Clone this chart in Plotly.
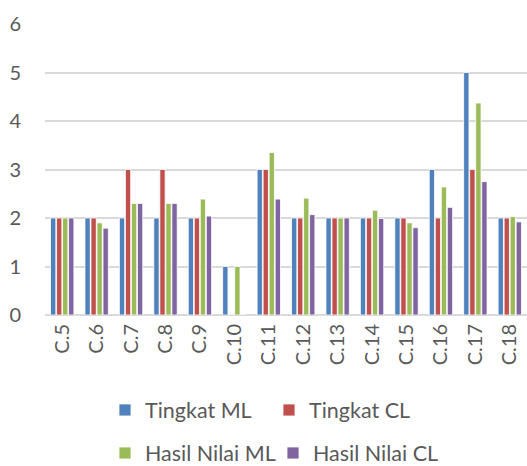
import plotly.graph_objects as go

categories = ["C.5", "C.6", "C.7", "C.8", "C.9", "C.10", "C.11", "C.12", "C.13", "C.14", "C.15", "C.16", "C.17", "C.18"]
tingkat_ml = [2, 2, 2, 2, 2, 1, 3, 2, 2, 2, 2, 3, 5, 2]
tingkat_cl = [2, 2, 3, 3, 2, 0, 3, 2, 2, 2, 2, 2, 3, 2]
hasil_ml = [2, 1.9, 2.3, 2.3, 2.39, 1, 3.35, 2.41, 2, 2.16, 1.9, 2.64, 4.37, 2.03]
hasil_cl = [2, 1.79, 2.3, 2.3, 2.04, 0, 2.39, 2.07, 2, 1.99, 1.8, 2.22, 2.75, 1.92]
y_ticks = [0, 1, 2, 3, 4, 5, 6]

series = [
    ("Tingkat ML", tingkat_ml, "#4F81BD", "legend", 105, 410),
    ("Tingkat CL", tingkat_cl, "#C0504D", "legend2", 269, 410),
    ("Hasil Nilai ML", hasil_ml, "#9BBB59", "legend3", 105, 453),
    ("Hasil Nilai CL", hasil_cl, "#8064A2", "legend4", 273, 453),
]

font_family = "Lato, 'Open Sans', sans-serif"
W, H = 527, 466
fig = go.Figure()
legends = {}
for name, vals, color, lg, lx, ly in series:
    fig.add_trace(go.Bar(
        x=categories, y=vals, name=name, legend=lg,
        marker=dict(color=color, line=dict(color="rgba(255,255,255,0.8)", width=1)),
    ))
    legends[lg] = dict(
        orientation="h", xref="container", yref="container",
        x=lx / W, y=1 - ly / H, xanchor="left", yanchor="middle",
        itemwidth=30,
        font=dict(size=21.5, color="#595959", family=font_family),
        bgcolor="rgba(0,0,0,0)", borderwidth=0,
    )

fig.update_layout(
    template="none",
    width=W, height=H,
    margin=dict(l=45, r=0, t=24, b=151, autoexpand=False),
    paper_bgcolor="white", plot_bgcolor="white",
    barmode="group", bargap=0.3, bargroupgap=0.12,
    font=dict(family=font_family, size=20, color="#595959"),
    showlegend=True,
    **legends,
)
fig.update_xaxes(
    tickangle=-90, showgrid=False, showline=False, ticks="", automargin=False,
    tickfont=dict(size=20), ticklabelstandoff=4,
)
fig.update_yaxes(
    range=[0, 6], tickvals=y_ticks, showgrid=True, gridcolor="#D9D9D9", gridwidth=1.5,
    zeroline=True, zerolinecolor="#D9D9D9", zerolinewidth=1.5, automargin=False,
    showline=False, ticks="", tickfont=dict(size=20), ticklabelstandoff=23,
)

fig.write_html(
    "out.html",
    config={"displayModeBar": False},
    post_script="document.body.style.margin='0';",
)
